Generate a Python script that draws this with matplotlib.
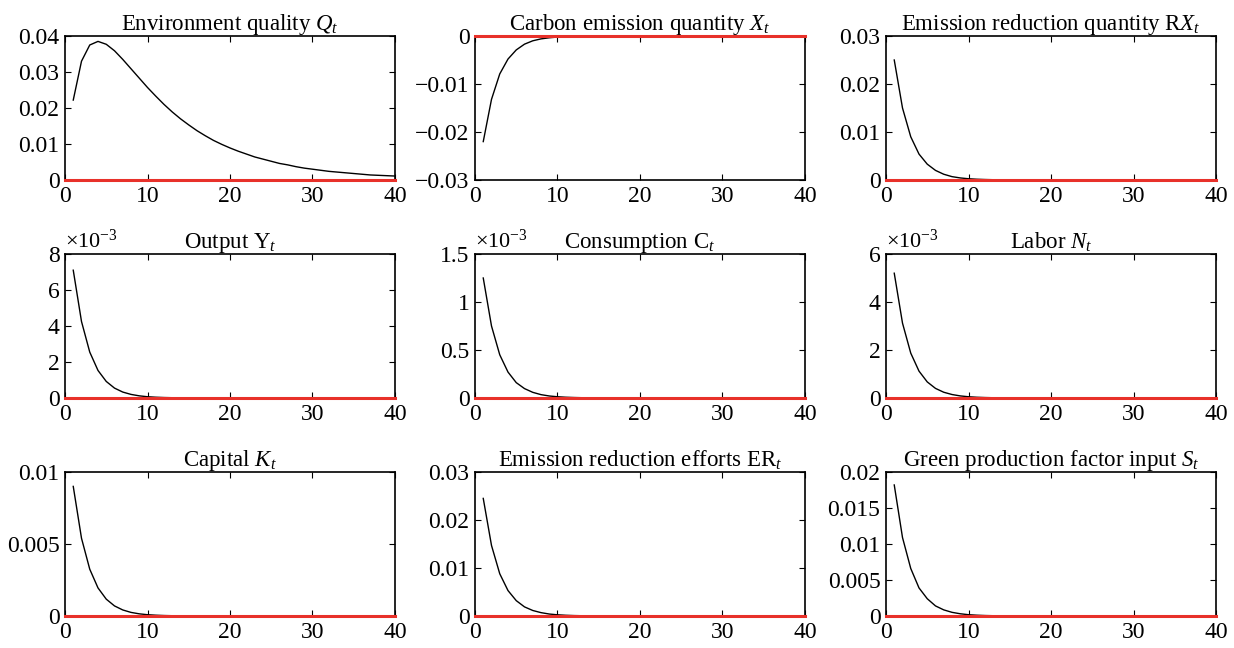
import matplotlib.pyplot as plt
from matplotlib.ticker import FuncFormatter

plt.rcParams['font.family'] = 'Liberation Serif'
plt.rcParams['mathtext.fontset'] = 'custom'
plt.rcParams['mathtext.rm'] = 'Liberation Serif'
plt.rcParams['mathtext.it'] = 'Liberation Serif:italic'

# horizon (quarters)
t = list(range(1, 41))

# impulse responses
env_q = [0.0222, 0.0330, 0.0375, 0.0385, 0.0377, 0.0359, 0.0335, 0.0309, 0.0283, 0.0257,
         0.0233, 0.0210, 0.0189, 0.0170, 0.0153, 0.0137, 0.0123, 0.0110, 0.0099, 0.0089,
         0.0080, 0.0072, 0.0064, 0.0058, 0.0052, 0.0046, 0.0042, 0.0037, 0.0033, 0.0030,
         0.0027, 0.0024, 0.0022, 0.0020, 0.0018, 0.0016, 0.0014, 0.0013, 0.0012, 0.0011]
carbon_x = [-0.0220, -0.0132, -0.0079, -0.0048, -0.0029, -0.0017, -0.0010, -0.0006, -0.00037, -0.00022,
            -0.00013, -0.00008, -0.00005, -0.00003, -0.00002, -0.00001, -0.00001, 0, 0, 0,
            0, 0, 0, 0, 0, 0, 0, 0, 0, 0,
            0, 0, 0, 0, 0, 0, 0, 0, 0, 0]
reduce_rx = [0.0250, 0.0150, 0.0090, 0.0054, 0.0033, 0.0020, 0.0012, 0.0007, 0.00043, 0.00026,
             0.00016, 0.00010, 0.00006, 0.00004, 0.00002, 0.00001, 0.00001, 0, 0, 0,
             0, 0, 0, 0, 0, 0, 0, 0, 0, 0,
             0, 0, 0, 0, 0, 0, 0, 0, 0, 0]
output_y = [0.00710, 0.00425, 0.00255, 0.00153, 0.00092, 0.00055, 0.00033, 0.00020, 0.00012, 0.00007,
            0.000043, 0.000026, 0.000016, 0.00001, 0.000006, 0.000004, 0.000002, 0, 0, 0,
            0, 0, 0, 0, 0, 0, 0, 0, 0, 0,
            0, 0, 0, 0, 0, 0, 0, 0, 0, 0]
consum_c = [0.00125, 0.00075, 0.00045, 0.00027, 0.00016, 0.000098, 0.000059, 0.000035, 0.000021, 0.000013,
            0.000008, 0.000005, 0.000003, 0.000002, 0.000001, 0, 0, 0, 0, 0,
            0, 0, 0, 0, 0, 0, 0, 0, 0, 0,
            0, 0, 0, 0, 0, 0, 0, 0, 0, 0]
labor_n = [0.00520, 0.00312, 0.00187, 0.00112, 0.00067, 0.00040, 0.00024, 0.000145, 0.000087, 0.000052,
           0.000031, 0.000019, 0.000011, 0.000007, 0.000004, 0.000002, 0.000001, 0, 0, 0,
           0, 0, 0, 0, 0, 0, 0, 0, 0, 0,
           0, 0, 0, 0, 0, 0, 0, 0, 0, 0]
capital_k = [0.00900, 0.00540, 0.00325, 0.00195, 0.00117, 0.00070, 0.00042, 0.00025, 0.00015, 0.00009,
             0.000055, 0.000033, 0.00002, 0.000012, 0.000007, 0.000004, 0.000002, 0, 0, 0,
             0, 0, 0, 0, 0, 0, 0, 0, 0, 0,
             0, 0, 0, 0, 0, 0, 0, 0, 0, 0]
effort_er = [0.0245, 0.0147, 0.0088, 0.0053, 0.0032, 0.0019, 0.00115, 0.0007, 0.00041, 0.00025,
             0.00015, 0.00009, 0.000055, 0.000033, 0.00002, 0.000012, 0.000007, 0, 0, 0,
             0, 0, 0, 0, 0, 0, 0, 0, 0, 0,
             0, 0, 0, 0, 0, 0, 0, 0, 0, 0]
green_s = [0.0182, 0.0109, 0.0066, 0.0039, 0.0024, 0.0014, 0.00085, 0.00051, 0.00031, 0.00018,
           0.00011, 0.000066, 0.00004, 0.000024, 0.000014, 0.000009, 0.000005, 0, 0, 0,
           0, 0, 0, 0, 0, 0, 0, 0, 0, 0,
           0, 0, 0, 0, 0, 0, 0, 0, 0, 0]

titles = [r'Environment quality $Q_t$', r'Carbon emission quantity $X_t$',
          r'Emission reduction quantity R$X_t$', r'Output Y$_t$', r'Consumption C$_t$',
          r'Labor $N_t$', r'Capital $K_t$', r'Emission reduction efforts ER$_t$',
          r'Green production factor input $S_t$']
series = [env_q, carbon_x, reduce_rx, output_y, consum_c, labor_n, capital_k, effort_er, green_s]
ylims = [(0, 0.04), (-0.03, 0), (0, 0.03), (0, 0.008), (0, 0.0015), (0, 0.006),
         (0, 0.01), (0, 0.03), (0, 0.02)]
ysteps = [0.01, 0.01, 0.01, 0.002, 0.0005, 0.002, 0.005, 0.01, 0.005]
scaled = [False, False, False, True, True, True, False, False, False]

W, H = 1234, 648
fig = plt.figure(figsize=(W / 100, H / 100), dpi=100)
lefts = [65, 475, 886]
tops = [36, 254, 472]
aw, ah = 330, 144

for i, (y, ttl) in enumerate(zip(series, titles)):
    r, c = divmod(i, 3)
    ax = fig.add_axes([lefts[c] / W, 1 - (tops[r] + ah) / H, aw / W, ah / H])
    ax.axhline(0, color='#e8312a', lw=2.2, zorder=4, clip_on=False)
    ax.plot(t, y, color='black', lw=1.0, zorder=3)
    ax.set_xlim(0, 40)
    ax.set_ylim(*ylims[i])
    ax.set_xticks([0, 10, 20, 30, 40])
    lo, hi = ylims[i]
    n = int(round((hi - lo) / ysteps[i]))
    ax.set_yticks([lo + k * ysteps[i] for k in range(n + 1)])
    if scaled[i]:
        fmt = lambda v, p: ('%g' % round(v * 1000, 6)).replace('-', '\u2212')
        ax.text(0.0, 1.01, r'$\times$10$^{-3}$', transform=ax.transAxes,
                fontsize=16, ha='left', va='bottom')
    else:
        fmt = lambda v, p: ('%g' % round(v, 6)).replace('-', '\u2212')
    ax.yaxis.set_major_formatter(FuncFormatter(fmt))
    ax.tick_params(direction='in', top=True, right=True, length=4, width=0.8,
                   labelsize=17, pad=4)
    for sp in ax.spines.values():
        sp.set_linewidth(1.2)
    ax.set_title(ttl, fontsize=16.5, pad=4)

plt.savefig('out.png', dpi=100)
